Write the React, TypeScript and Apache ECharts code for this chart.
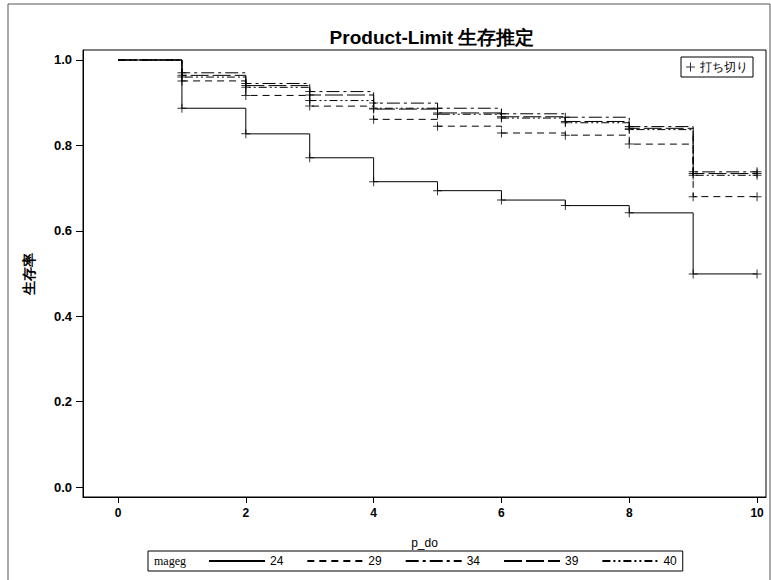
import React, { useEffect, useRef } from "react";
import * as echarts from "echarts";

// Follow-up times (years) at which the Kaplan-Meier steps occur
const times = [0, 1, 2, 3, 4, 5, 6, 7, 8, 9];
const endTime = 10;

// Survival estimate on each interval [t, t+1) per mageg group
const s24 = [1.0, 0.887, 0.827, 0.771, 0.715, 0.694, 0.672, 0.659, 0.642, 0.499];
const s29 = [1.0, 0.951, 0.917, 0.892, 0.861, 0.845, 0.829, 0.824, 0.803, 0.68];
const s34 = [1.0, 0.97, 0.945, 0.926, 0.899, 0.887, 0.874, 0.866, 0.844, 0.738];
const s39 = [1.0, 0.964, 0.94, 0.918, 0.885, 0.876, 0.867, 0.856, 0.84, 0.734];
const s40 = [1.0, 0.96, 0.936, 0.905, 0.887, 0.873, 0.864, 0.853, 0.837, 0.73];

// Times with censored observations
const censorTimes = [1, 2, 3, 4, 5, 6, 7, 8, 9, 10];

const groups = ["24", "29", "34", "39", "40"];
const groupValues = [s24, s29, s34, s39, s40];
const dashTypes: any[] = ["solid", [7, 5], [13, 4, 3, 4], [18, 4], [8, 3, 2, 3, 2, 3]];

const xTicks = [0, 2, 4, 6, 8, 10];
const yTicks = [0, 0.2, 0.4, 0.6, 0.8, 1.0];

const FONT = "'Liberation Sans', Arial, sans-serif";
const plusPath = "path://M4,0h1v4h4v1h-4v4h-1v-4h-4v-1h4z";

function survivalAt(values: number[], t: number) {
  let v = values[0];
  times.forEach((tt, i) => {
    if (tt <= t) v = values[i];
  });
  return v;
}

export default function App() {
  const ref = useRef<HTMLDivElement>(null);

  useEffect(() => {
    document.body.style.margin = "0";
    const chart = echarts.init(ref.current!, null, { renderer: "svg" });

    const lineSeries = groups.map((g, gi) => {
      const vals = groupValues[gi];
      const pts = times.map((t, i) => [t, vals[i]]);
      pts.push([endTime, vals[vals.length - 1]]);
      return {
        name: g,
        type: "line",
        step: "end",
        data: pts,
        symbol: "none",
        lineStyle: { color: "#000", width: 1, type: dashTypes[gi] },
        itemStyle: { color: "#000" },
        emphasis: { disabled: true },
        z: 3,
      };
    });

    const censorData: number[][] = [];
    groupValues.forEach((vals) => {
      censorTimes.forEach((t) => censorData.push([t, survivalAt(vals, t)]));
    });

    chart.setOption({
      animation: false,
      backgroundColor: "#fff",
      title: {
        text: "Product-Limit 生存推定",
        left: 427,
        top: 23,
        textAlign: "center",
        textStyle: { fontFamily: FONT, fontSize: 19, fontWeight: "bold", color: "#000" },
      },
      grid: {
        left: 83,
        right: 5,
        top: 50,
        bottom: 83,
        show: true,
        borderColor: "#000",
        borderWidth: 1,
        backgroundColor: "transparent",
      },
      xAxis: {
        type: "value",
        min: -0.548,
        max: 10.14,
        name: "p_do",
        nameLocation: "middle",
        nameGap: 40,
        nameTextStyle: { fontFamily: FONT, fontSize: 12, color: "#000" },
        axisLine: { onZero: false, lineStyle: { color: "#000", width: 1 } },
        axisTick: { show: true, length: 6, customValues: xTicks, lineStyle: { color: "#000" } },
        axisLabel: {
          customValues: xTicks,
          fontFamily: FONT,
          fontSize: 12,
          fontWeight: "bold",
          color: "#000",
          margin: 10,
        },
        splitLine: { show: false },
      },
      yAxis: {
        type: "value",
        min: -0.0234,
        max: 1.0234,
        name: "生存率",
        nameLocation: "middle",
        nameGap: 47,
        nameRotate: 90,
        nameTextStyle: { fontFamily: FONT, fontSize: 14, fontWeight: "bold", color: "#000" },
        axisLine: { show: true, onZero: false, lineStyle: { color: "#000", width: 1 } },
        axisTick: { show: true, length: 7, customValues: yTicks, lineStyle: { color: "#000" } },
        axisLabel: {
          customValues: yTicks,
          formatter: (v: number) => v.toFixed(1),
          fontFamily: FONT,
          fontSize: 13,
          fontWeight: "bold",
          color: "#000",
          margin: 11,
        },
        splitLine: { show: false },
      },
      legend: [
        {
          data: ["打ち切り"],
          right: 18,
          top: 57,
          orient: "horizontal",
          icon: plusPath,
          itemWidth: 9,
          itemHeight: 9,
          itemGap: 4,
          padding: [4, 5, 4, 5],
          borderColor: "#000",
          borderWidth: 1,
          selectedMode: false,
          textStyle: { fontFamily: FONT, fontSize: 12, color: "#000", padding: [0, 0, 0, 0] },
        },
        {
          data: groups,
          left: 148,
          top: 551,
          orient: "horizontal",
          itemWidth: 56,
          itemHeight: 8,
          itemGap: 23,
          padding: [4, 6, 4, 60],
          borderColor: "#000",
          borderWidth: 1,
          selectedMode: false,
          itemStyle: { color: "transparent", borderColor: "transparent", borderWidth: 0, opacity: 0 },
          textStyle: { fontFamily: FONT, fontSize: 12, color: "#000" },
        },
      ],
      graphic: [
        {
          type: "rect",
          shape: { x: 8, y: 4, width: 762, height: 590 },
          style: { fill: "none", stroke: "#555", lineWidth: 1 },
          silent: true,
        },
        {
          type: "text",
          left: 154,
          top: 555,
          style: { text: "mageg", font: "12px 'Liberation Serif', serif", fill: "#000" },
          silent: true,
        },
      ],
      series: [
        ...lineSeries,
        {
          name: "打ち切り",
          type: "scatter",
          data: censorData,
          symbol: plusPath,
          symbolSize: 9,
          itemStyle: { color: "#000" },
          emphasis: { disabled: true },
          z: 4,
        },
      ],
    });

    return () => chart.dispose();
  }, []);

  return <div ref={ref} style={{ width: 771, height: 580 }} />;
}
